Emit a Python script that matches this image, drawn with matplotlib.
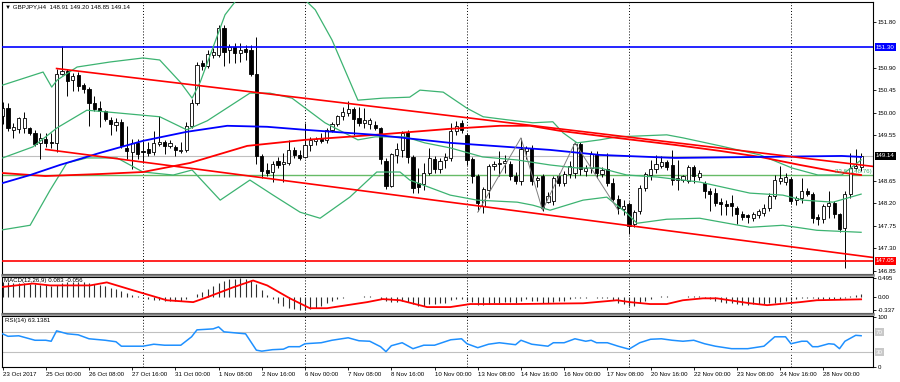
import numpy as np
import matplotlib.pyplot as plt
from matplotlib.transforms import blended_transform_factory
from matplotlib.lines import Line2D

plt.rcParams['font.family'] = ['Liberation Sans', 'DejaVu Sans']
FS = 4.4

# ============================
# H4 bars, GBPJPY, bar 0 = 23 Oct 16:00
# ============================
opens = [149.94, 150.10, 149.66, 149.68, 149.70, 149.70, 149.60, 149.40, 149.48, 149.42,
         149.40, 150.78, 150.84, 150.66, 150.76, 150.56, 150.48, 150.20, 150.10, 150.04,
         149.86, 149.76, 149.82, 149.30, 149.22, 149.40, 149.24, 149.28, 149.22, 149.38,
         149.42, 149.34, 149.32, 149.24, 149.26, 149.74, 150.20, 150.98, 150.94, 151.14,
         151.14, 151.68, 151.24, 151.30, 151.18, 151.26, 151.24, 150.78, 149.14, 148.86,
         148.82, 149.04, 148.98, 149.00, 149.26, 149.16, 149.12, 149.36, 149.44, 149.48,
         149.46, 149.66, 149.78, 149.94, 150.00, 150.08, 149.90, 149.80, 149.78, 149.76,
         149.70, 149.04, 148.54, 149.16, 149.26, 149.62, 149.12, 148.60, 148.58, 148.80,
         149.08, 148.88, 149.06, 149.10, 149.64, 149.80, 149.56, 149.08, 148.74, 148.14,
         148.46, 148.94, 148.98, 149.00, 148.98, 148.74, 148.64, 149.24, 149.30, 148.66,
         148.74, 148.22, 148.24, 148.74, 148.60, 148.78, 148.80, 149.38, 148.84, 148.90,
         149.18, 148.78, 148.88, 148.60, 148.28, 148.08, 148.18, 147.78, 148.04, 148.50,
         148.76, 148.88, 148.94, 149.02, 148.96, 148.66, 148.66, 148.64, 148.92, 148.72,
         148.60, 148.44, 148.40, 148.22, 148.18, 148.20, 148.10, 147.98, 147.96, 147.90,
         147.96, 148.00, 148.10, 148.34, 148.64, 148.62, 148.68, 148.26, 148.30, 148.44,
         148.38, 147.92, 147.88, 148.14, 148.20, 147.98, 147.70, 148.38, 148.90, 148.91]
highs = [150.22, 150.20, 149.80, 149.92, 150.02, 149.72, 149.66, 149.60, 149.60, 149.60,
         150.88, 151.32, 150.88, 150.80, 150.82, 150.60, 150.52, 150.34, 150.24, 150.06,
         149.92, 149.90, 149.88, 149.74, 149.48, 149.48, 149.44, 149.42, 149.64, 149.94,
         149.46, 149.46, 149.36, 149.42, 149.82, 150.28, 151.00, 151.04, 151.24, 151.28,
         151.74, 151.74, 151.36, 151.38, 151.38, 151.34, 151.34, 151.50, 149.18, 149.00,
         149.04, 149.12, 149.20, 149.46, 149.32, 149.26, 149.80, 149.52, 149.52, 149.60,
         149.70, 149.82, 149.96, 150.12, 150.24, 150.12, 150.12, 150.10, 149.90, 149.84,
         149.72, 149.10, 149.20, 149.40, 149.64, 149.66, 149.16, 148.90, 149.00, 149.30,
         149.14, 149.10, 149.20, 149.80, 149.84, 149.86, 149.60, 149.12, 148.78, 148.52,
         148.98, 149.04, 149.24, 149.16, 149.04, 148.82, 149.50, 149.34, 149.36, 148.74,
         148.78, 148.42, 148.74, 148.80, 148.84, 149.04, 149.42, 149.42, 148.96, 149.24,
         149.24, 148.92, 149.20, 148.70, 148.36, 148.26, 148.22, 148.06, 148.56, 148.82,
         149.06, 149.16, 149.14, 149.06, 149.26, 149.06, 148.76, 148.96, 148.96, 148.86,
         148.64, 148.50, 148.50, 148.30, 148.26, 148.36, 148.14, 148.04, 147.98, 148.02,
         148.08, 148.18, 148.40, 148.76, 148.94, 148.80, 148.72, 148.34, 148.70, 148.50,
         148.42, 147.98, 148.18, 148.44, 148.24, 148.00, 148.44, 149.20, 149.28, 149.20]
lows = [149.78, 149.64, 149.50, 149.60, 149.60, 149.56, 149.34, 149.08, 149.32, 149.30,
        149.22, 150.76, 150.34, 150.44, 150.44, 150.40, 149.74, 150.04, 149.72, 149.84,
        149.56, 149.64, 149.30, 149.08, 148.88, 149.08, 149.02, 149.14, 149.16, 149.34,
        149.18, 149.30, 149.14, 149.20, 149.22, 149.70, 150.16, 150.86, 150.90, 151.08,
        151.10, 150.94, 150.98, 150.98, 151.00, 151.04, 150.74, 148.98, 148.70, 148.74,
        148.62, 148.90, 148.62, 148.96, 149.10, 149.06, 149.10, 149.24, 149.36, 149.40,
        149.40, 149.62, 149.74, 149.86, 149.94, 149.56, 149.74, 149.70, 149.68, 149.66,
        148.98, 148.48, 148.52, 149.00, 149.12, 149.00, 148.40, 148.40, 148.46, 148.76,
        148.80, 148.80, 148.90, 149.04, 149.56, 149.60, 148.96, 148.60, 148.04, 148.00,
        148.30, 148.86, 148.74, 148.80, 148.66, 148.58, 148.56, 149.08, 148.56, 148.52,
        148.04, 148.20, 148.16, 148.54, 148.54, 148.70, 148.70, 148.76, 148.74, 148.80,
        148.70, 148.72, 148.54, 148.24, 147.98, 147.96, 147.58, 147.72, 147.98, 148.44,
        148.66, 148.80, 148.90, 148.86, 148.56, 148.46, 148.62, 148.60, 148.60, 148.66,
        148.30, 148.04, 148.14, 147.96, 147.96, 147.94, 147.78, 147.86, 147.80, 147.84,
        147.90, 147.94, 148.04, 148.28, 148.58, 148.56, 148.18, 148.16, 148.20, 148.34,
        147.80, 147.76, 147.80, 147.90, 147.90, 147.62, 146.90, 148.30, 148.86, 148.85]
closes = [150.10, 149.70, 149.72, 149.90, 149.90, 149.60, 149.38, 149.50, 149.40, 149.40,
          150.78, 150.84, 150.64, 150.74, 150.54, 150.48, 150.20, 150.08, 150.04, 149.88,
          149.78, 149.82, 149.34, 149.24, 149.40, 149.18, 149.22, 149.20, 149.40, 149.42,
          149.34, 149.40, 149.26, 149.26, 149.74, 150.20, 150.96, 150.94, 151.16, 151.20,
          151.68, 151.20, 151.30, 151.18, 151.24, 151.20, 150.78, 149.14, 148.84, 148.80,
          148.98, 148.96, 149.02, 149.26, 149.16, 149.10, 149.36, 149.46, 149.48, 149.44,
          149.66, 149.78, 149.94, 150.02, 150.08, 149.88, 149.80, 149.86, 149.86, 149.70,
          149.08, 148.54, 149.18, 149.28, 149.60, 149.12, 148.50, 148.52, 148.80, 149.10,
          148.88, 149.04, 149.12, 149.64, 149.74, 149.66, 149.06, 148.74, 148.20, 148.48,
          148.94, 148.98, 149.00, 149.04, 148.74, 148.64, 149.28, 149.30, 148.64, 148.70,
          148.10, 148.34, 148.70, 148.60, 148.78, 148.94, 149.38, 148.88, 148.90, 149.18,
          148.80, 148.86, 148.60, 148.28, 148.10, 148.14, 147.74, 148.02, 148.50, 148.78,
          148.88, 148.98, 149.02, 148.92, 148.66, 148.70, 148.74, 148.92, 148.74, 148.80,
          148.44, 148.38, 148.20, 148.18, 148.14, 148.14, 147.98, 147.92, 147.92, 147.98,
          148.04, 148.10, 148.34, 148.66, 148.70, 148.72, 148.24, 148.30, 148.44, 148.38,
          147.90, 147.88, 148.14, 148.20, 147.98, 147.68, 148.38, 148.90, 148.94, 149.14]

x_labels = ['23 Oct 2017', '25 Oct 00:00', '26 Oct 08:00', '27 Oct 16:00', '31 Oct 00:00',
            '1 Nov 08:00', '2 Nov 16:00', '6 Nov 00:00', '7 Nov 08:00', '8 Nov 16:00',
            '10 Nov 00:00', '13 Nov 08:00', '14 Nov 16:00', '16 Nov 00:00', '17 Nov 08:00',
            '20 Nov 16:00', '22 Nov 00:00', '23 Nov 08:00', '24 Nov 16:00', '28 Nov 00:00']
week_starts = [26, 56, 86, 116, 146]

# Bollinger bands (sampled at bar index)
bb_up_x = [0, 7.5, 9.1, 10.1, 13.8, 19.9, 26, 29.1, 32.9, 35.1, 36.6, 41.2, 44, 49.5, 55.1,
           57.9, 61, 65.8, 70.4, 75.4, 77.3, 81.6, 86, 89, 93.4, 98.2, 101.9, 103.8, 106.4,
           110.6, 113.8, 123, 126, 132.9, 140.3, 146.2, 151, 155.4, 159]
bb_up = [150.55, 150.81, 150.51, 150.65, 150.91, 151.01, 151.09, 151.05, 150.61, 150.29,
         150.61, 151.95, 152.34, 152.94, 152.34, 152.05, 151.45, 150.25, 150.29, 150.31,
         150.45, 150.41, 150.09, 149.92, 149.86, 149.80, 149.82, 149.60, 149.40, 149.46,
         149.52, 149.56, 149.50, 149.34, 149.16, 148.90, 148.76, 148.76, 149.06]
bb_mid_x = [0, 5.6, 10.1, 15.6, 19.9, 26, 29.1, 34.1, 37.9, 45.8, 49.5, 53.6, 59.7, 65.8, 69,
            74.5, 78.2, 82.9, 88.9, 95.3, 101.4, 106.4, 110.6, 115.6, 121.2, 129.1, 138.4,
            144.5, 148.2, 153.8, 159]
bb_mid = [149.10, 149.32, 149.70, 150.05, 150.01, 149.95, 149.92, 149.66, 149.84, 150.39,
          150.39, 150.29, 149.80, 149.46, 149.52, 149.52, 149.40, 149.30, 149.12, 149.06,
          148.96, 148.90, 148.90, 148.76, 148.72, 148.62, 148.40, 148.36, 148.26, 148.22,
          148.38]
bb_lo_x = [0, 5.1, 8.8, 11.9, 15.6, 21.2, 26, 31.6, 35.1, 40.3, 45.8, 50.1, 55.1, 58.8, 64.3,
           69.3, 73.6, 75.4, 82.9, 87.9, 95.3, 98.2, 101.4, 107.5, 111.9, 115.6, 117.5, 123,
           129.1, 138.4, 144.5, 150.8, 159]
bb_lo = [147.67, 147.76, 148.46, 149.00, 149.10, 149.10, 148.82, 148.76, 148.86, 148.26,
         148.66, 148.36, 148.02, 147.90, 148.32, 148.82, 148.82, 148.66, 148.36, 148.26,
         148.22, 148.16, 148.06, 148.26, 148.32, 148.00, 147.80, 147.88, 147.90, 147.72,
         147.76, 147.66, 147.62]

# moving averages
ma_blue_x = [0, 5.1, 10.6, 18, 26, 34.1, 41.6, 49, 56, 69, 82.9, 101.4, 110.6, 124.5, 140.3,
             155.4, 159]
ma_blue = [148.60, 148.76, 148.96, 149.20, 149.44, 149.62, 149.74, 149.72, 149.66, 149.56,
           149.40, 149.26, 149.16, 149.10, 149.12, 149.14, 149.12]
ma_red_x = [0, 7.9, 18, 26, 34.7, 45.3, 56, 69, 82.9, 92.1, 97.7, 103.2, 110.6, 124.5, 132.9,
            140.3, 147.7, 154.7, 159]
ma_red = [148.80, 148.74, 148.78, 148.82, 149.00, 149.34, 149.46, 149.56, 149.68, 149.74,
          149.74, 149.64, 149.54, 149.36, 149.24, 149.12, 148.96, 148.82, 148.76]

# trend channel anchors, zigzag, levels
chan_up_x, chan_up = [10, 159], [150.88, 148.96]
chan_lo_x, chan_lo = [8, 159], [149.27, 147.15]
zz_x = [88, 96, 100, 106, 114]
zz = [148.02, 149.50, 148.06, 149.40, 148.06]
level_res = 151.30
level_sup = 147.05
fib_236 = 148.76
bid = 149.14
price_ticks = [151.80, 150.90, 150.45, 150.00, 149.55, 148.65, 148.20, 147.75, 147.30, 146.85]

# MACD(12,26,9) main (bars) and signal
macd = [0.40, 0.39, 0.38, 0.37, 0.37, 0.36, 0.35, 0.33, 0.31, 0.29,
        0.32, 0.37, 0.40, 0.41, 0.41, 0.40, 0.38, 0.35, 0.32, 0.29,
        0.25, 0.21, 0.16, 0.11, 0.07, 0.02, -0.03, -0.06, -0.08, -0.08,
        -0.09, -0.10, -0.10, -0.10, -0.06, 0.00, 0.08, 0.15, 0.22, 0.30,
        0.38, 0.43, 0.47, 0.49, 0.495, 0.48, 0.45, 0.36, 0.20, 0.06,
        -0.06, -0.15, -0.22, -0.28, -0.32, -0.337, -0.33, -0.31, -0.28, -0.23,
        -0.16, -0.11, -0.06, -0.02, 0.01, 0.01, 0.01, 0.02, 0.02, 0.01,
        -0.04, -0.11, -0.12, -0.12, -0.10, -0.13, -0.19, -0.22, -0.22, -0.19,
        -0.18, -0.16, -0.14, -0.08, -0.05, -0.04, -0.08, -0.13, -0.20, -0.21,
        -0.18, -0.16, -0.14, -0.12, -0.13, -0.14, -0.09, -0.06, -0.10, -0.11,
        -0.15, -0.15, -0.12, -0.11, -0.09, -0.06, -0.01, -0.01, -0.01, 0.01,
        -0.01, -0.01, -0.03, -0.08, -0.14, -0.17, -0.23, -0.22, -0.16, -0.09,
        -0.04, 0.00, 0.02, 0.03, 0.01, 0.01, 0.01, 0.02, 0.02, 0.02,
        -0.02, -0.05, -0.09, -0.12, -0.15, -0.16, -0.19, -0.20, -0.20, -0.19,
        -0.19, -0.18, -0.16, -0.14, -0.12, -0.10, -0.08, -0.05, -0.03, -0.02,
        -0.03, -0.05, -0.05, -0.04, -0.04, -0.06, -0.03, 0.02, 0.05, 0.083]
sig_x = [0, 5.6, 8.8, 16.2, 19.3, 24.2, 30.4, 35.3, 37.9, 42.7, 46.4, 49, 53.2, 56.9, 60.1,
         67.5, 70.4, 73.6, 78.6, 82.9, 86.6, 95.3, 107.5, 113.8, 116.2, 119.9, 123, 126,
         129.7, 132.3, 138.4, 141.6, 147.7, 150.8, 159]
sig = [0.27, 0.36, 0.31, 0.31, 0.39, 0.18, -0.08, -0.13, 0.00, 0.26, 0.44, 0.31, -0.03,
       -0.29, -0.29, -0.13, -0.05, -0.08, -0.26, -0.26, -0.18, -0.18, -0.16, -0.08, -0.13,
       -0.18, -0.18, -0.08, -0.03, -0.03, -0.16, -0.21, -0.13, -0.08, -0.056]

# RSI(14)
rsi_x = [0, 1, 3, 6, 8, 9, 10, 12, 14, 16, 19, 21, 22, 24, 26, 28, 30, 33, 35, 36, 39, 40,
         41, 43, 45, 47, 48, 50, 52, 53, 55, 56, 59, 61, 64, 66, 68, 70, 71, 72, 74, 76, 78,
         80, 83, 85, 86, 88, 90, 92, 95, 96, 98, 101, 102, 104, 106, 108, 109, 110, 112, 114,
         116, 118, 120, 122, 124, 126, 128, 130, 132, 135, 138, 141, 143, 145, 146, 148, 149,
         150, 151, 153, 154, 155, 156, 158, 159]
rsi = [67, 62, 63, 54, 54, 52, 73, 67, 65, 57, 54, 51, 42, 42, 42, 46, 44, 44, 61, 75, 77, 81,
       71, 69, 67, 34, 32, 35, 36, 41, 41, 47, 49, 54, 59, 53, 52, 41, 31, 43, 49, 37, 44,
       44, 55, 57, 47, 39, 46, 49, 45, 54, 46, 42, 49, 49, 57, 52, 54, 49, 49, 42,
       36, 49, 56, 57, 54, 52, 54, 47, 42, 37, 37, 42, 61, 61, 47, 52, 52,
       41, 41, 47, 46, 37, 52, 64, 63.14]

# ============================
# Figure
# ============================
W, H = 900, 382
fig = plt.figure(figsize=(W / 100, H / 100), dpi=100)


def box(x0, y0, x1, y1):
    return [x0 / W, 1 - y1 / H, (x1 - x0) / W, (y1 - y0) / H]


ax = fig.add_axes(box(2, 1.5, 873, 274))
axm = fig.add_axes(box(2, 276.5, 873, 313))
axr = fig.add_axes(box(2, 315.5, 873, 367))

XL = (-0.11, 161.2)
for a in (ax, axm, axr):
    a.set_xlim(*XL)
    for s in a.spines.values():
        s.set_linewidth(0.8)
        s.set_color('black')
    for g in week_starts:
        a.axvline(g, color='black', lw=0.7, ls=(0, (1, 2)), zorder=1)
    a.yaxis.tick_right()
    a.tick_params(axis='y', length=2, width=0.6, pad=1.5, labelsize=FS)

# --- main panel ---
n = len(closes)
idx = np.arange(n)
o, h, l, c = map(np.array, (opens, highs, lows, closes))
up = c >= o
body = np.maximum(np.abs(c - o), 0.02)
bottom = np.minimum(o, c)
ax.vlines(idx, l, h, color='black', lw=0.7, zorder=2)
ax.bar(idx[up], body[up], bottom=bottom[up], width=0.58, facecolor='white',
       edgecolor='black', lw=0.6, zorder=2.5)
ax.bar(idx[~up], body[~up], bottom=bottom[~up], width=0.58, facecolor='black',
       edgecolor='black', lw=0.6, zorder=2.5)

ax.axhline(bid, color='#c0c0c0', lw=0.8, zorder=1.5)
ax.axhline(fib_236, color='#66bb66', lw=1.0, zorder=1.5)
ax.axhline(level_res, color='#0000ff', lw=1.2, zorder=3)
ax.axhline(level_sup, color='#ff0000', lw=1.2, zorder=3)

for xs, ys in ((bb_up_x, bb_up), (bb_mid_x, bb_mid), (bb_lo_x, bb_lo)):
    ax.plot(xs, ys, color='#3cb371', lw=0.9, zorder=3)
ax.plot(ma_red_x, ma_red, color='#ff0000', lw=1.3, zorder=3)
ax.plot(ma_blue_x, ma_blue, color='#0000ff', lw=1.3, zorder=3)
ax.plot(zz_x, zz, color='#808080', lw=0.7, zorder=3)

for xs, ys in ((chan_up_x, chan_up), (chan_lo_x, chan_lo)):
    slope = (ys[1] - ys[0]) / (xs[1] - xs[0])
    x_end = XL[1] + 1
    ax.plot([xs[0], x_end], [ys[0], ys[0] + slope * (x_end - xs[0])],
            color='#ff0000', lw=1.2, zorder=3)

ax.set_ylim(146.79, 152.214)
ax.set_yticks(price_ticks)
ax.set_yticklabels([f'{t:.2f}' for t in price_ticks])
ax.tick_params(axis='x', bottom=False, labelbottom=False)

tr = blended_transform_factory(ax.transAxes, ax.transData)
for val, fc in ((level_res, '#0000ff'), (bid, 'black'), (level_sup, '#ff0000')):
    ax.text(1.0035, val, f'{val:.2f}', transform=tr, ha='left', va='center', fontsize=FS,
            color='white', clip_on=False,
            bbox=dict(boxstyle='square,pad=0.25', fc=fc, ec='none'))
ax.text(0.9985, fib_236 + 0.02, f'23.6 ({fib_236:.2f})', transform=tr, ha='right',
        va='bottom', fontsize=FS, color='#3cb371', zorder=4)
ax.text(0.004, 0.99, '\u25bc GBPJPY,H4  148.91 149.20 148.85 149.14',
        transform=ax.transAxes, ha='left', va='top', fontsize=FS, color='black')

# --- MACD panel ---
axm.vlines(idx, 0, macd, color='#303030', lw=0.8, zorder=2)
axm.plot(sig_x, sig, color='#ff0000', lw=1.3, zorder=3)
axm.set_ylim(-0.416, 0.545)
axm.set_yticks([0.495, 0.0, -0.337])
axm.set_yticklabels(['0.495', '0.00', '-0.337'])
axm.tick_params(axis='x', bottom=False, labelbottom=False)
axm.text(0.002, 0.97, 'MACD(12,26,9) 0.083 -0.056', transform=axm.transAxes,
         ha='left', va='top', fontsize=FS, color='black')

# --- RSI panel ---
axr.axhline(70, color='#c0c0c0', lw=0.8, zorder=1.5)
axr.axhline(30, color='#c0c0c0', lw=0.8, zorder=1.5)
axr.plot(rsi_x, rsi, color='#1e90ff', lw=1.1, zorder=3)
axr.set_ylim(0, 104)
axr.set_yticks([100, 0])
axr.set_yticklabels(['100', '0'])
trr = blended_transform_factory(axr.transAxes, axr.transData)
for lv in (70, 30):
    axr.text(1.0035, lv, str(lv), transform=trr, ha='left', va='center', fontsize=FS,
             color='white', clip_on=False,
             bbox=dict(boxstyle='square,pad=0.25', fc='#c8c8c8', ec='none'))
axr.text(0.003, 0.95, 'RSI(14) 63.1381', transform=axr.transAxes, ha='left', va='top',
         fontsize=FS, color='black')

axr.set_xticks(range(0, 160, 8))
axr.set_xticklabels(x_labels)
axr.tick_params(axis='x', length=2, width=0.6, pad=1.5, labelsize=FS)
for lbl in axr.get_xticklabels():
    lbl.set_horizontalalignment('left')

# panel separators
for ysep in (275, 314):
    fig.add_artist(Line2D([2 / W, 873 / W], [1 - ysep / H] * 2, color='#808080', lw=1.8))

fig.savefig('out.png', dpi=100)
